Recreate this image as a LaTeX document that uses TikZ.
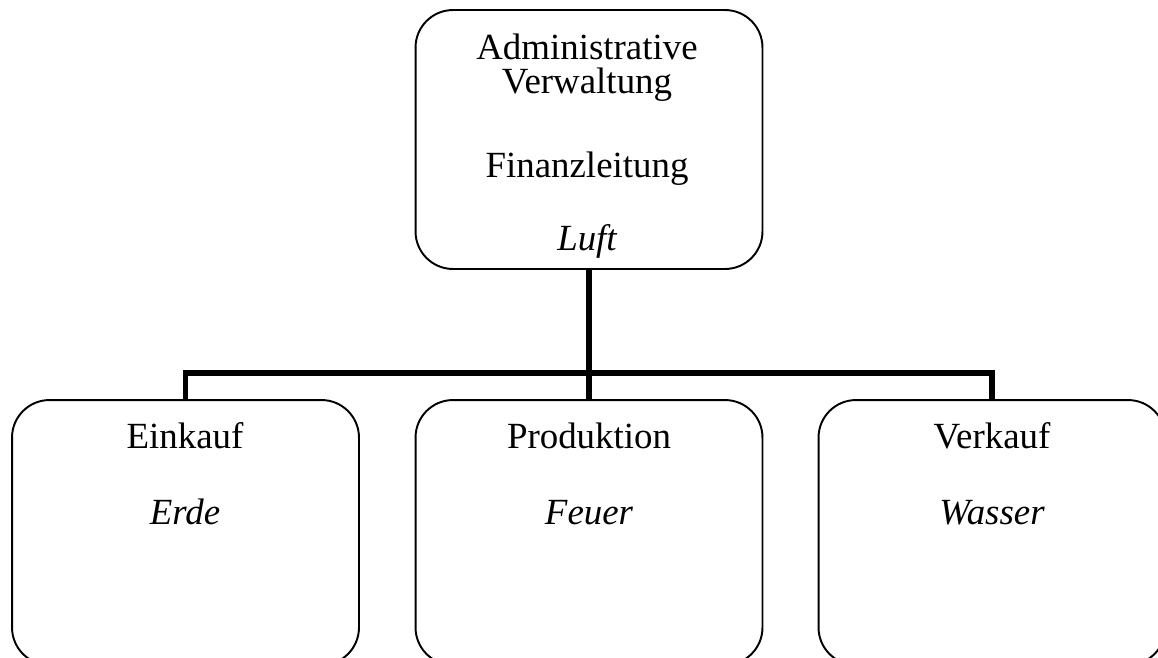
\documentclass[tikz,border=0pt]{standalone}
\usepackage{fontspec}
\setmainfont{Liberation Serif}
\usetikzlibrary{positioning}

\begin{document}
\begin{tikzpicture}
      [x=0.02cm,y=-0.02cm,
        unit/.style={draw,rectangle,rounded corners=0.75cm,line width=1.1pt,
          inner sep=0pt,minimum width=6.94cm,minimum height=5.3cm},
        label/.style={anchor=base,inner sep=0pt,font=\fontsize{21}{24}\selectfont},
        conn/.style={line width=3.4pt}]
      \useasboundingbox (0,0) rectangle (1158,657);
      \node[unit,minimum height=5.18cm] (leitung) at (589,139.5) {};
      \node[unit] (einkauf) at (185.5,532.5) {};
      \node[unit] (produktion) at (589,532.5) {};
      \node[unit] (verkauf) at (992,532.5) {};
      \coordinate (bar) at (589,373);
      \draw[conn] (leitung.south) -- (bar);
      \draw[conn] (einkauf.north) |- (bar) -| (verkauf.north);
      \draw[conn] (bar) -- (produktion.north);
      \node[label] (adm) at (587,59) {Administrative};
      \node[label] (verw) at (587,93) {Verwaltung};
      \node[label] (fin) at (587,177) {Finanzleitung};
      \node[label] (luft) at (587,250) {\itshape Luft};
      \node[label] (ek) at (185,448) {Einkauf};
      \node[label] (erde) at (185,524) {\itshape Erde};
      \node[label] (prod) at (589,448) {Produktion};
      \node[label] (feuer) at (589,524) {\itshape Feuer};
      \node[label] (vk) at (992,448) {Verkauf};
      \node[label] (wasser) at (992,524) {\itshape Wasser};
\end{tikzpicture}
\end{document}
